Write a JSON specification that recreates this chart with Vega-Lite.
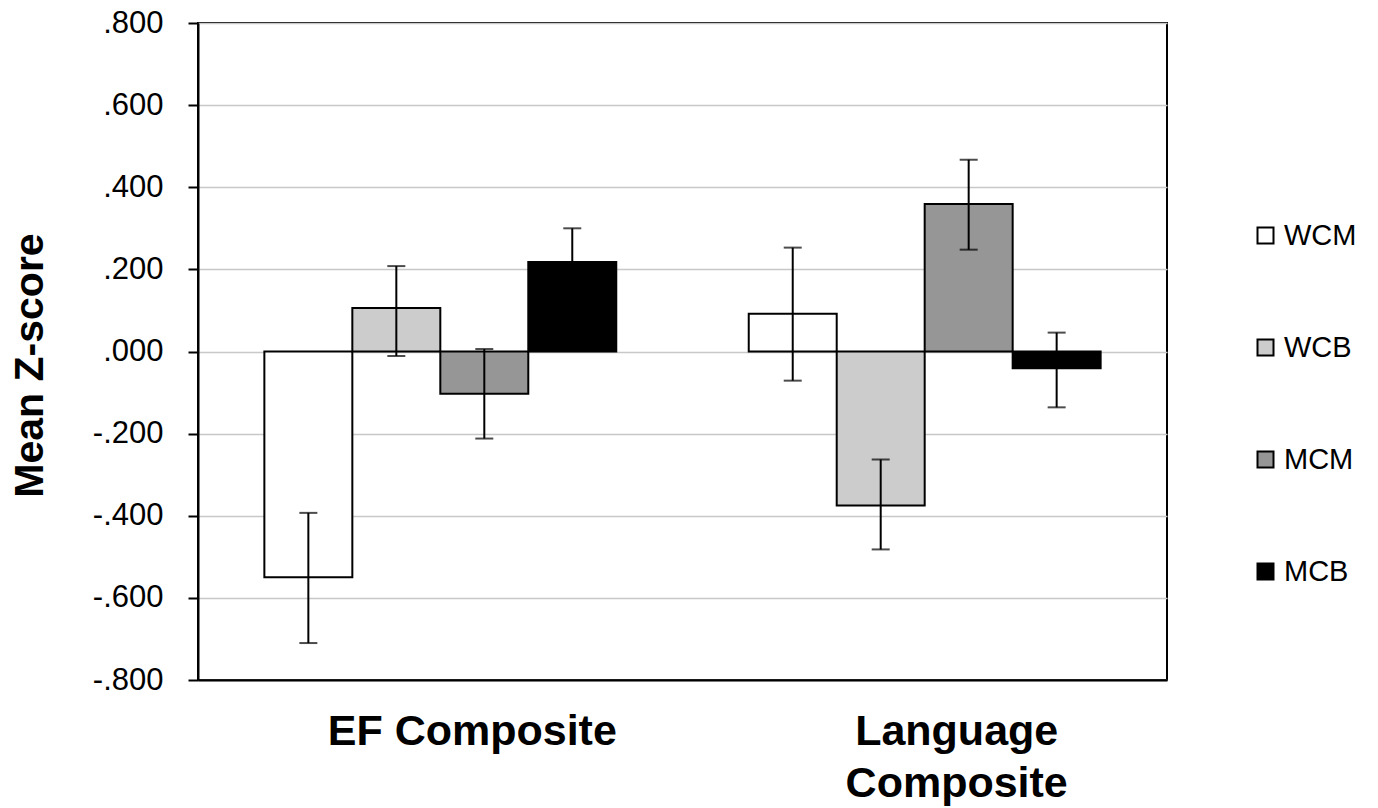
{
  "$schema": "https://vega.github.io/schema/vega-lite/v6.json",
  "autosize": {"type": "none"},
  "padding": {"left": 198, "top": 23, "right": 211, "bottom": 128},
  "width": 969,
  "height": 657,
  "background": "white",
  "config": {
    "view": {"stroke": "black", "strokeWidth": 2},
    "font": "Liberation Sans"
  },
  "data": {
    "values": [
      {"group": "EF Composite", "cond": "WCM", "mean": -0.55, "lo": -0.71, "hi": -0.393},
      {"group": "EF Composite", "cond": "WCB", "mean": 0.106, "lo": -0.011, "hi": 0.208},
      {"group": "EF Composite", "cond": "MCM", "mean": -0.103, "lo": -0.212, "hi": 0.006},
      {"group": "EF Composite", "cond": "MCB", "mean": 0.218, "lo": 0.136, "hi": 0.3},
      {"group": "Language Composite", "cond": "WCM", "mean": 0.092, "lo": -0.071, "hi": 0.253},
      {"group": "Language Composite", "cond": "WCB", "mean": -0.375, "lo": -0.482, "hi": -0.263},
      {"group": "Language Composite", "cond": "MCM", "mean": 0.359, "lo": 0.248, "hi": 0.467},
      {"group": "Language Composite", "cond": "MCB", "mean": -0.041, "lo": -0.136, "hi": 0.046}
    ]
  },
  "encoding": {
    "x": {
      "field": "group", "type": "nominal",
      "scale": {"paddingInner": 0.2735, "paddingOuter": 0.137},
      "axis": {
        "title": null, "labelAngle": 0, "ticks": false,
        "domainColor": "black", "domainWidth": 2,
        "labelFontSize": 43, "labelFontWeight": "bold", "labelColor": "black",
        "labelPadding": 30, "labelOffset": 32, "labelLineHeight": 52,
        "labelBaseline": "top", "labelLimit": 0,
        "labelExpr": "datum.value == 'Language Composite' ? ['Language', 'Composite'] : datum.value"
      }
    },
    "xOffset": {
      "field": "cond", "type": "nominal",
      "sort": ["WCM", "WCB", "MCM", "MCB"],
      "scale": {"paddingInner": 0, "paddingOuter": 0}
    }
  },
  "layer": [
    {
      "mark": {"type": "bar", "stroke": "black", "strokeWidth": 2},
      "encoding": {
        "y": {
          "field": "mean", "type": "quantitative",
          "scale": {"domain": [-0.8, 0.8], "nice": false, "zero": false},
          "axis": {
            "values": [-0.8, -0.6, -0.4, -0.2, 0, 0.2, 0.4, 0.6, 0.8],
            "labelExpr": "replace(replace(format(datum.value, '.3f'), '0.', '.'), '\u2212', '-')",
            "grid": true, "gridColor": "#c8c8c8", "gridWidth": 1.5,
            "domainColor": "black", "domainWidth": 2,
            "tickColor": "black", "tickWidth": 2, "tickSize": 10,
            "labelFontSize": 31, "labelColor": "black", "labelPadding": 25,
            "title": "Mean Z-score", "titleFontSize": 41, "titleFontWeight": "bold",
            "titleColor": "black", "titleAngle": -90, "titleX": -168, "titleY": 342,
            "titleAlign": "center", "titleBaseline": "middle"
          }
        },
        "y2": {"datum": 0},
        "fill": {
          "field": "cond", "type": "nominal",
          "scale": {"domain": ["WCM", "WCB", "MCM", "MCB"], "range": ["#ffffff", "#cccccc", "#969696", "#000000"]},
          "legend": {
            "title": null, "orient": "none", "legendX": 1053, "legendY": 198, "padding": 0,
            "symbolType": "square", "symbolSize": 256, "symbolStrokeColor": "black",
            "symbolStrokeWidth": 2, "labelFontSize": 29, "labelColor": "black",
            "labelFont": "Liberation Sans", "rowPadding": 82, "labelOffset": 4
          }
        }
      }
    },
    {
      "mark": {"type": "rule", "color": "black", "strokeWidth": 2},
      "encoding": {
        "y": {"field": "lo", "type": "quantitative"},
        "y2": {"field": "hi"}
      }
    },
    {
      "mark": {"type": "tick", "color": "black", "thickness": 2, "size": 18, "orient": "horizontal"},
      "encoding": {"y": {"field": "lo", "type": "quantitative"}}
    },
    {
      "mark": {"type": "tick", "color": "black", "thickness": 2, "size": 18, "orient": "horizontal"},
      "encoding": {"y": {"field": "hi", "type": "quantitative"}}
    }
  ]
}
